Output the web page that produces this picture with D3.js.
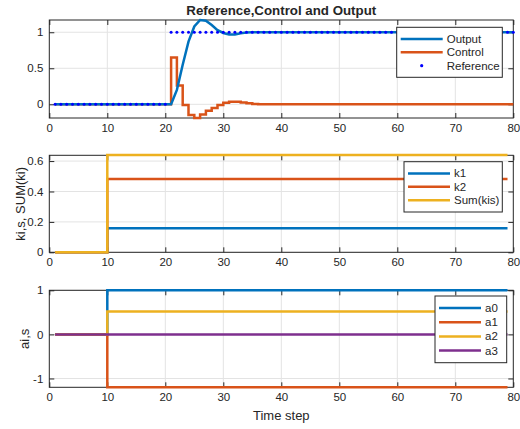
<!DOCTYPE html>
<html>
<head>
<meta charset="utf-8">
<script src="https://cdn.jsdelivr.net/npm/d3@7"></script>
<style>
  body { margin: 0; background: #fff; }
  svg text { font-family: "Liberation Sans", Arial, sans-serif; fill: #262626; }
</style>
</head>
<body>
<div id="wrapper"></div>
<script>
// ---- data ----
// top panel, time steps 1..80
const timeSteps = [1,2,3,4,5,6,7,8,9,10,11,12,13,14,15,16,17,18,19,20,
  21,22,23,24,25,26,27,28,29,30,31,32,33,34,35,36,37,38,39,40,
  41,42,43,44,45,46,47,48,49,50,51,52,53,54,55,56,57,58,59,60,
  61,62,63,64,65,66,67,68,69,70,71,72,73,74,75,76,77,78,79,80]
const outputValues = [0,0,0,0,0,0,0,0,0,0,0,0,0,0,0,0,0,0,0,0,
  0,0.2,0.55,0.87,1.08,1.17,1.16,1.10,1.03,0.99,0.97,0.97,0.985,0.995,1,1,1,1,1,1,
  1,1,1,1,1,1,1,1,1,1,1,1,1,1,1,1,1,1,1,1,
  1,1,1,1,1,1,1,1,1,1,1,1,1,1,1,1,1,1,1,1]
const controlValues = [0,0,0,0,0,0,0,0,0,0,0,0,0,0,0,0,0,0,0,0,
  0.65,0.26,-0.01,-0.15,-0.19,-0.14,-0.09,-0.05,-0.01,0.02,0.035,0.035,0.025,0.015,0.005,0,0,0,0,0,
  0,0,0,0,0,0,0,0,0,0,0,0,0,0,0,0,0,0,0,0,
  0,0,0,0,0,0,0,0,0,0,0,0,0,0,0,0,0,0,0,0]
const referenceValues = [0,0,0,0,0,0,0,0,0,0,0,0,0,0,0,0,0,0,0,0,
  1,1,1,1,1,1,1,1,1,1,1,1,1,1,1,1,1,1,1,1,
  1,1,1,1,1,1,1,1,1,1,1,1,1,1,1,1,1,1,1,1,
  1,1,1,1,1,1,1,1,1,1,1,1,1,1,1,1,1,1,1,1]

// middle & bottom panels: piecewise constant, breakpoints at these steps
const paramSteps = [1, 10, 79]
const k1Values = [0, 0.158, 0.158]
const k2Values = [0, 0.482, 0.482]
const sumKValues = [0, 0.64, 0.64]
const a0Values = [0, 1, 1]
const a1Values = [0, -1.2, -1.2]
const a2Values = [0, 0.52, 0.52]
const a3Values = [0, 0, 0]

const xTicks = [0, 10, 20, 30, 40, 50, 60, 70, 80]
const topYTicks = [0, 0.5, 1]
const midYTicks = [0, 0.2, 0.4, 0.6]
const botYTicks = [-1, 0, 1]

const colors = { blue: "#0072BD", orange: "#D95319", yellow: "#EDB120", purple: "#7E2F8E", ref: "#0000FF" }

let width = 520, height = 429
let left = 49.3, right = 513.3

let svg = d3.select("#wrapper").append("svg")
    .attr("width", width)
    .attr("height", height)

let x = d3.scaleLinear().domain([0, 80]).range([left, right])
let plain = d => String(d)

function drawAxes(top, bottom, yDomain, yTicks) {
    let y = d3.scaleLinear().domain(yDomain).range([bottom, top])
    let g = svg.append("g")
    // grid
    g.append("g").selectAll("line").data(xTicks.slice(1, -1)).enter().append("line")
        .attr("x1", d => x(d)).attr("x2", d => x(d))
        .attr("y1", top).attr("y2", bottom)
        .attr("stroke", "#e3e3e3").attr("stroke-width", 1)
    g.append("g").selectAll("line").data(yTicks).enter().append("line")
        .attr("x1", left).attr("x2", right)
        .attr("y1", d => y(d)).attr("y2", d => y(d))
        .attr("stroke", "#e3e3e3").attr("stroke-width", 1)

    g.append("g").attr("transform", `translate(0,${bottom})`)
        .call(d3.axisBottom(x).tickValues(xTicks).tickSize(-5).tickSizeOuter(0).tickPadding(6).tickFormat(plain))
    g.append("g").attr("transform", `translate(0,${top})`)
        .call(d3.axisTop(x).tickValues(xTicks).tickSize(-5).tickSizeOuter(0).tickFormat(""))
    g.append("g").attr("transform", `translate(${left},0)`)
        .call(d3.axisLeft(y).tickValues(yTicks).tickSize(-5).tickSizeOuter(0).tickPadding(6).tickFormat(plain))
    g.append("g").attr("transform", `translate(${right},0)`)
        .call(d3.axisRight(y).tickValues(yTicks).tickSize(-5).tickSizeOuter(0).tickFormat(""))
    g.selectAll(".domain").remove()
    g.selectAll(".tick line").attr("stroke", "#262626")
    g.selectAll(".tick text").style("font-size", "11.5px").attr("fill", "#262626")
    g.append("rect")
        .attr("x", left).attr("y", top)
        .attr("width", right - left).attr("height", bottom - top)
        .attr("fill", "none").attr("stroke", "#262626").attr("stroke-width", 1)
    return { y: y, g: g }
}

function drawLegend(x0, y0, w, h, items, lineLen) {
    let lg = svg.append("g")
    lg.append("rect").attr("x", x0).attr("y", y0).attr("width", w).attr("height", h)
        .attr("fill", "white").attr("stroke", "#262626").attr("stroke-width", 1)
    let rowH = (h - 10) / items.length
    items.forEach((it, i) => {
        let cy = y0 + 5 + rowH * (i + 0.5)
        if (it.dot) {
            lg.append("circle").attr("cx", x0 + 4 + lineLen / 2).attr("cy", cy).attr("r", 1.6).attr("fill", it.color)
        } else {
            lg.append("line").attr("x1", x0 + 4).attr("x2", x0 + 4 + lineLen)
                .attr("y1", cy).attr("y2", cy)
                .attr("stroke", it.color).attr("stroke-width", 2.5)
        }
        lg.append("text").attr("x", x0 + 8 + lineLen).attr("y", cy)
            .attr("dominant-baseline", "central")
            .style("font-size", "11.5px").text(it.label)
    })
}

// ---- top panel ----
let p1 = drawAxes(20, 118, [-0.19, 1.17], topYTicks)
let topData = timeSteps.map((t, i) => ({ t: t, out: outputValues[i], ctl: controlValues[i], ref: referenceValues[i] }))
p1.g.append("path").datum(topData)
    .attr("d", d3.line().x(d => x(d.t)).y(d => p1.y(d.ctl)).curve(d3.curveStepAfter))
    .attr("fill", "none").attr("stroke", colors.orange).attr("stroke-width", 2.5)
p1.g.append("path").datum(topData)
    .attr("d", d3.line().x(d => x(d.t)).y(d => p1.y(d.out)))
    .attr("fill", "none").attr("stroke", colors.blue).attr("stroke-width", 2.5)
p1.g.append("g").selectAll("circle").data(topData).enter().append("circle")
    .attr("cx", d => x(d.t)).attr("cy", d => p1.y(d.ref)).attr("r", 1.5)
    .attr("fill", colors.ref)
svg.append("text").attr("x", (left + right) / 2).attr("y", 15)
    .attr("text-anchor", "middle").style("font-size", "13.3px").style("font-weight", "bold")
    .text("Reference,Control and Output")
drawLegend(396.7, 27.3, 105.6, 50, [
    { label: "Output", color: colors.blue },
    { label: "Control", color: colors.orange },
    { label: "Reference", color: colors.ref, dot: true }
], 42)

// ---- middle panel ----
let p2 = drawAxes(155.3, 252.3, [0, 0.638], midYTicks)
function stepSeries(p, values, color) {
    let pts = paramSteps.map((t, i) => ({ t: t, v: values[i] }))
    p.g.append("path").datum(pts)
        .attr("d", d3.line().x(d => x(d.t)).y(d => p.y(d.v)).curve(d3.curveStepAfter))
        .attr("fill", "none").attr("stroke", color).attr("stroke-width", 2.5)
}
stepSeries(p2, k1Values, colors.blue)
stepSeries(p2, k2Values, colors.orange)
stepSeries(p2, sumKValues, colors.yellow)
svg.append("text").attr("transform", `translate(25,${(155.3 + 252.3) / 2}) rotate(-90)`)
    .attr("text-anchor", "middle").style("font-size", "13px").text("ki,s, SUM(ki)")
drawLegend(404, 161.7, 98.3, 50.3, [
    { label: "k1", color: colors.blue },
    { label: "k2", color: colors.orange },
    { label: "Sum(kis)", color: colors.yellow }
], 42)

// ---- bottom panel ----
let p3 = drawAxes(290.3, 387.3, [-1.2, 1], botYTicks)
stepSeries(p3, a0Values, colors.blue)
stepSeries(p3, a1Values, colors.orange)
stepSeries(p3, a2Values, colors.yellow)
stepSeries(p3, a3Values, colors.purple)
svg.append("text").attr("transform", `translate(29,${(290.3 + 387.3) / 2}) rotate(-90)`)
    .attr("text-anchor", "middle").style("font-size", "13px").text("ai,s")
svg.append("text").attr("x", (left + right) / 2).attr("y", 420)
    .attr("text-anchor", "middle").style("font-size", "13px").text("Time step")
drawLegend(435, 296, 71.7, 66.7, [
    { label: "a0", color: colors.blue },
    { label: "a1", color: colors.orange },
    { label: "a2", color: colors.yellow },
    { label: "a3", color: colors.purple }
], 42)
</script>
</body>
</html>
